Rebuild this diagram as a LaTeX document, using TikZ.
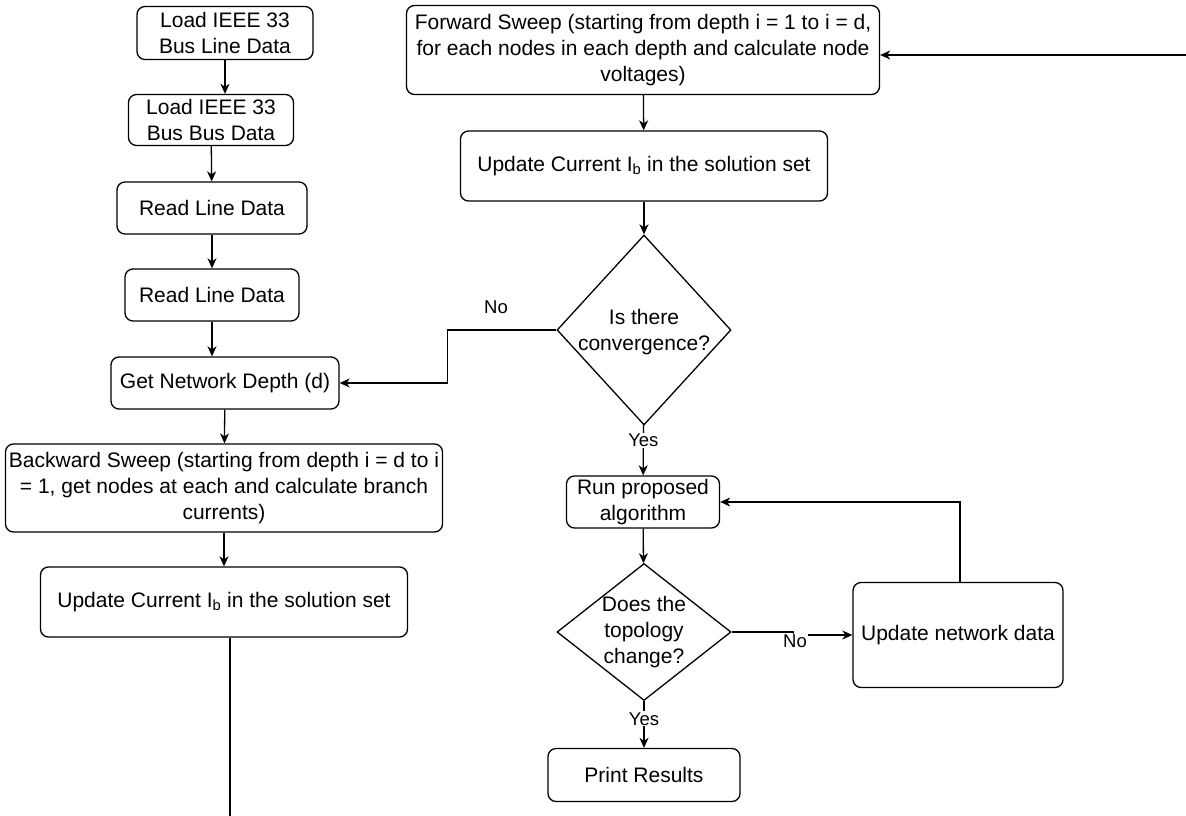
\documentclass[tikz,border=0pt]{standalone}
\usepackage{fontspec}
\setmainfont{Liberation Sans}
\usetikzlibrary{positioning, shapes.geometric, arrows.meta}

\begin{document}
\begin{tikzpicture}[x=1pt, y=-1pt,
        block/.style={rectangle, rounded corners=8pt, draw, line width=1.3pt, align=center, inner sep=2pt},
        decision/.style={diamond, draw, line width=1.3pt, inner sep=0pt},
        tag/.style={font=\fontsize{18.5}{22}\selectfont, fill=white, inner sep=1pt},
        >={Stealth[length=10pt, width=9pt, inset=3pt]}, line width=1.3pt,
        every node/.style={font=\fontsize{21}{26}\selectfont}]

        \useasboundingbox (0,0) rectangle (1186,816);

        % left column
        \node[block, minimum width=176, minimum height=53] (lineload) at (225,33)  {Load IEEE 33\\Bus Line Data};
        \node[block, minimum width=165, minimum height=51] (busload)  at (211,120) {Load IEEE 33\\Bus Bus Data};
        \node[block, minimum width=190, minimum height=52] (readA)    at (212,208) {Read Line Data};
        \node[block, minimum width=174, minimum height=52] (readB)    at (212,295) {Read Line Data};
        \node[block, minimum width=228, minimum height=52] (depth)    at (225,383) {Get Network Depth (d)};
        \node[block, minimum width=437, minimum height=88] (backward) at (224,488) {Backward Sweep (starting from depth i = d to i\\= 1, get nodes at each and calculate branch\\currents)};
        \node[block, minimum width=367, minimum height=70] (updleft)  at (224,602) {Update Current I\textsubscript{b} in the solution set};
        \coordinate (exit) at (230,816);

        % right column
        \node[block, minimum width=473, minimum height=89] (forward)  at (643,50)  {Forward Sweep (starting from depth i = 1 to i = d,\\for each nodes in each depth and calculate node\\voltages)};
        \node[block, minimum width=367, minimum height=70] (updright) at (644,166) {Update Current I\textsubscript{b} in the solution set};
        \node[decision, minimum width=174, minimum height=190,
              label={[align=center, yshift=-2pt]center:Is there\\convergence?}] (conv) at (644,330) {};
        \node[block, minimum width=153, minimum height=52] (run)      at (643,502) {Run proposed\\algorithm};
        \node[decision, minimum width=174, minimum height=137,
              label={[align=center]center:Does the\\topology\\change?}] (topo) at (644,632) {};
        \node[block, minimum width=210, minimum height=105] (netdata) at (958,635) {Update network data};
        \node[block, minimum width=192, minimum height=53] (print)    at (644,775) {Print Results};
        \coordinate (entry) at (1186,55);

        % left chain
        \draw[->] (lineload.south) -- (lineload.south |- busload.north);
        \draw[->] (busload) -- (readA);
        \draw[->] (readA) -- (readB);
        \draw[->] (readB.south) -- (readB.south |- depth.north);
        \draw[->] (depth) -- (backward);
        \draw[->] (backward) -- (updleft);
        \draw ([xshift=6pt]updleft.south) -- (exit);

        % right chain
        \draw[->] (entry) -- (entry -| forward.east);
        \draw[->] (forward) -- (updright);
        \draw[->] (updright) -- (conv);
        \draw[->] (conv.west) -- ++(-109,0) |- (depth.east);
        \node[tag] (noconv) at (496,307) {No};
        \draw[->] (conv) -- (run) node[tag, pos=0.3] (yesconv) {Yes};
        \draw[->] (run) -- (topo);
        \draw[->] (topo.east) -- ++(62,0) |- (netdata.west);
        \node[tag] (notopo) at (795,641) {No};
        \draw[->] ([xshift=2pt]netdata.north) |- (run.east);
        \draw[->] (topo) -- (print) node[tag, pos=0.38] (yestopo) {Yes};
\end{tikzpicture}
\end{document}
